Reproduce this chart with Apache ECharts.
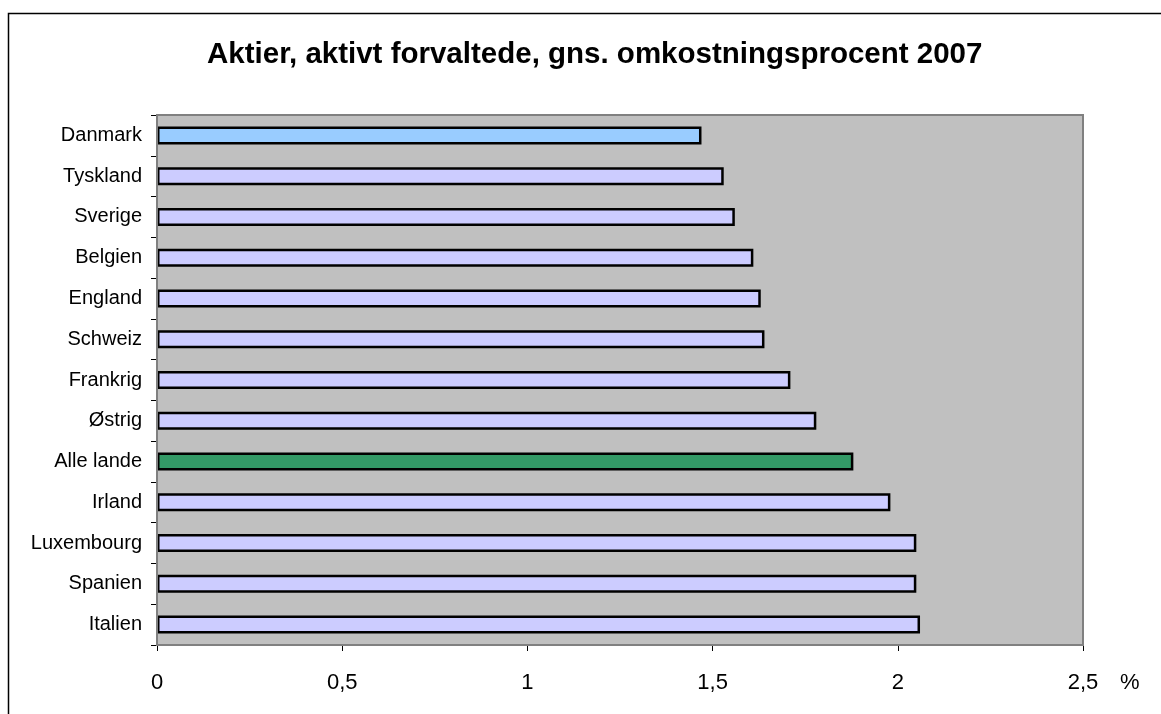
<!DOCTYPE html>
<html><head><meta charset="utf-8">
<script src="https://cdn.jsdelivr.net/npm/echarts@6/dist/echarts.min.js"></script>
<style>html,body{margin:0;padding:0;background:#fff}#c{width:1161px;height:714px}</style>
</head><body><div id="c"></div>
<script>
const titleText = 'Aktier, aktivt forvaltede, gns. omkostningsprocent 2007';
const categories = ['Danmark','Tyskland','Sverige','Belgien','England','Schweiz','Frankrig','Østrig','Alle lande','Irland','Luxembourg','Spanien','Italien'];
const values = [1.47,1.53,1.56,1.61,1.63,1.64,1.71,1.78,1.88,1.98,2.05,2.05,2.06];
const barColors = ['#99CCFF','#CCCCFF','#CCCCFF','#CCCCFF','#CCCCFF','#CCCCFF','#CCCCFF','#CCCCFF','#339966','#CCCCFF','#CCCCFF','#CCCCFF','#CCCCFF'];
const xTicks = [0,0.5,1,1.5,2,2.5];
const unitLabel = '%';

const chart = echarts.init(document.getElementById('c'), null, {renderer:'canvas'});
const L=157, T=115, R=1083, B=645;
const FF='Liberation Sans, Arial, sans-serif';
chart.setOption({
  animation:false,
  backgroundColor:'#fff',
  textStyle:{fontFamily:FF},
  title:{text:titleText,left:202,top:35,textStyle:{fontSize:29.5,fontWeight:'bold',color:'#000',fontFamily:FF}},
  graphic:[
    {type:'rect',shape:{x:8.5,y:13.5,width:1200,height:800},style:{fill:'none',stroke:'#000',lineWidth:1.5},z:-1},
    {type:'rect',shape:{x:L,y:T,width:R-L,height:B-T},style:{fill:'none',stroke:'#808080',lineWidth:2},z:10}
  ],
  grid:{left:L,top:T,width:R-L,height:B-T,show:true,backgroundColor:'#C0C0C0',borderWidth:0},
  xAxis:{type:'value',min:0,max:2.5,interval:0.5,
    name:unitLabel,nameLocation:'end',nameGap:37,
    nameTextStyle:{fontSize:22,color:'#000',verticalAlign:'top',padding:[27,0,0,0]},
    axisLine:{show:true,lineStyle:{color:'#000',width:1}},
    axisTick:{show:true,length:6,lineStyle:{color:'#000'}},
    splitLine:{show:false},
    axisLabel:{fontSize:22,color:'#000',margin:27,formatter:v=>{const i=xTicks.indexOf(v);return i>=0?String(xTicks[i]).replace('.',','):'';}}
  },
  yAxis:{type:'category',data:categories,inverse:true,
    axisLine:{show:true,lineStyle:{color:'#000',width:1}},
    axisTick:{show:true,length:6,lineStyle:{color:'#000'}},
    axisLabel:{fontSize:20,color:'#000',margin:15}
  },
  series:[{type:'bar',data:values.map((v,i)=>({value:v,itemStyle:{color:barColors[i]}})),
    barWidth:18,
    itemStyle:{borderColor:'#000',borderWidth:2.5}
  }]
});
</script></body></html>
